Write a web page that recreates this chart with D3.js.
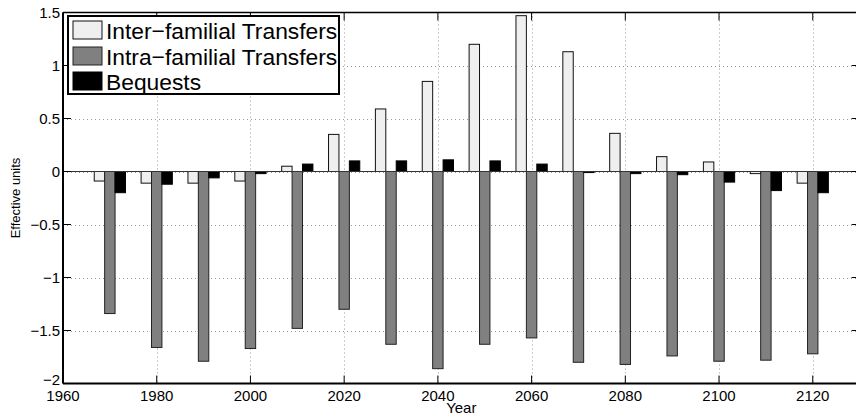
<!DOCTYPE html>
<html>
<head>
<meta charset="utf-8">
<script src="https://cdn.jsdelivr.net/npm/d3@7"></script>
<style>
  html, body { margin: 0; padding: 0; background: #fff; }
  svg { display: block; }
  text { font-family: "Liberation Sans", Arial, Helvetica, sans-serif; fill: #000; }
</style>
</head>
<body>
<svg id="chart" width="856" height="414"></svg>
<script>
// Simulation years (one bar group per decade)
const years = [1970, 1980, 1990, 2000, 2010, 2020, 2030, 2040, 2050, 2060, 2070, 2080, 2090, 2100, 2110, 2120];

// Series values, in effective units
const interFamilial = [-0.09, -0.11, -0.11, -0.09, 0.05, 0.35, 0.59, 0.85, 1.20, 1.47, 1.13, 0.36, 0.14, 0.09, -0.02, -0.11];
const intraFamilial = [-1.34, -1.66, -1.79, -1.67, -1.48, -1.30, -1.63, -1.86, -1.63, -1.57, -1.80, -1.82, -1.74, -1.79, -1.78, -1.72];
const bequests      = [-0.20, -0.12, -0.06, -0.02, 0.07, 0.10, 0.10, 0.11, 0.10, 0.07, -0.01, -0.02, -0.03, -0.10, -0.18, -0.20];

const seriesNames = ["Inter\u2212familial Transfers", "Intra\u2212familial Transfers", "Bequests"];
const seriesFill = ["#efefef", "#808080", "#000000"];
const seriesStroke = ["#111111", "#222222", "#000000"];

const xTicks = [1960, 1980, 2000, 2020, 2040, 2060, 2080, 2100, 2120];
const yTicks = [-2, -1.5, -1, -0.5, 0, 0.5, 1, 1.5];

const series = [interFamilial, intraFamilial, bequests];

const svg = d3.select("#chart");

const x = d3.scaleLinear().domain([1960, 2130]).range([63, 859.6]);
const y = d3.scaleLinear().domain([-2, 1.5]).range([383.5, 12.5]);

const plotL = x.range()[0], plotR = x.range()[1];
const plotT = y.range()[1], plotB = y.range()[0];

// grouped-bar geometry: three bars side by side within 2/3 of the decade spacing
const spacing = 10;
const barW = spacing * (2 / 3) / 3;
const offsets = [-barW, 0, barW];

// dotted grid
const grid = svg.append("g").attr("stroke", "#9a9a9a").attr("stroke-width", 1).attr("stroke-dasharray", "1,3");
grid.selectAll("line.gx").data(xTicks.filter(t => t > 1960)).join("line")
  .attr("x1", d => Math.round(x(d)) + 0.5).attr("x2", d => Math.round(x(d)) + 0.5)
  .attr("y1", plotT).attr("y2", plotB);
grid.selectAll("line.gy").data(yTicks.filter(t => t > -2 && t < 1.5)).join("line")
  .attr("x1", plotL).attr("x2", plotR)
  .attr("y1", d => Math.round(y(d)) + 0.5).attr("y2", d => Math.round(y(d)) + 0.5);

// bars
series.forEach((vals, si) => {
  svg.append("g").selectAll("rect").data(years.map((yr, i) => ({ yr, v: vals[i] }))).join("rect")
    .attr("x", d => x(d.yr + offsets[si] - barW / 2))
    .attr("width", x(1960 + barW) - x(1960))
    .attr("y", d => y(Math.max(0, d.v)))
    .attr("height", d => Math.abs(y(d.v) - y(0)))
    .attr("fill", seriesFill[si])
    .attr("stroke", seriesStroke[si])
    .attr("stroke-width", 1);
});

// bar baseline
svg.append("line")
  .attr("x1", plotL).attr("x2", plotR)
  .attr("y1", y(0)).attr("y2", y(0))
  .attr("stroke", "#333").attr("stroke-width", 1);

// axes box
const axes = svg.append("g").attr("stroke", "#000");
axes.append("line").attr("x1", plotL).attr("x2", plotR).attr("y1", plotT).attr("y2", plotT).attr("stroke-width", 1.5);
axes.append("line").attr("x1", plotL).attr("x2", plotR).attr("y1", plotB).attr("y2", plotB).attr("stroke-width", 2);
axes.append("line").attr("x1", plotL).attr("x2", plotL).attr("y1", plotT).attr("y2", plotB).attr("stroke-width", 2);
axes.append("line").attr("x1", plotR).attr("x2", plotR).attr("y1", plotT).attr("y2", plotB).attr("stroke-width", 1.5);

// inward tick marks
const tickLen = 8;
axes.selectAll("line.xb").data(xTicks).join("line")
  .attr("x1", d => x(d)).attr("x2", d => x(d)).attr("y1", plotB).attr("y2", plotB - tickLen).attr("stroke-width", 1);
axes.selectAll("line.xt").data(xTicks).join("line")
  .attr("x1", d => x(d)).attr("x2", d => x(d)).attr("y1", plotT).attr("y2", plotT + tickLen).attr("stroke-width", 1);
axes.selectAll("line.yl").data(yTicks).join("line")
  .attr("x1", plotL).attr("x2", plotL + tickLen).attr("y1", d => y(d)).attr("y2", d => y(d)).attr("stroke-width", 1);
axes.selectAll("line.yr").data(yTicks).join("line")
  .attr("x1", plotR).attr("x2", plotR - tickLen).attr("y1", d => y(d)).attr("y2", d => y(d)).attr("stroke-width", 1);

// tick labels (the lowest y label is nudged up so it sits just above the first year label)
const fmtY = d => (d < 0 ? "\u2212" : "") + String(Math.abs(d));
svg.append("g").selectAll("text").data(xTicks).join("text")
  .attr("x", d => x(d)).attr("y", 400.5)
  .attr("text-anchor", "middle").attr("font-size", 15)
  .text(d => d);
svg.append("g").selectAll("text").data(yTicks).join("text")
  .attr("x", 60).attr("y", d => d === -2 ? y(d) + 1.5 : y(d) + 5)
  .attr("text-anchor", "end").attr("font-size", 15)
  .text(fmtY);

// axis titles
svg.append("text").attr("x", (plotL + plotR) / 2).attr("y", 412.5)
  .attr("text-anchor", "middle").attr("font-size", 15).text("Year");
svg.append("text").attr("transform", `translate(20,${(plotT + plotB) / 2}) rotate(-90)`)
  .attr("text-anchor", "middle").attr("font-size", 13).text("Effective units");

// legend
const lg = svg.append("g");
lg.append("rect").attr("x", 68).attr("y", 16).attr("width", 271).attr("height", 78)
  .attr("fill", "#fff").attr("stroke", "#000").attr("stroke-width", 2);
const rowY = [21, 47, 72];
seriesNames.forEach((name, i) => {
  lg.append("rect").attr("x", 73).attr("y", rowY[i]).attr("width", 29).attr("height", 18)
    .attr("fill", seriesFill[i]).attr("stroke", seriesStroke[i]).attr("stroke-width", 1);
  lg.append("text").attr("x", 106).attr("y", rowY[i] + 17.5)
    .attr("font-size", 22.8).text(name);
});
</script>
</body>
</html>
